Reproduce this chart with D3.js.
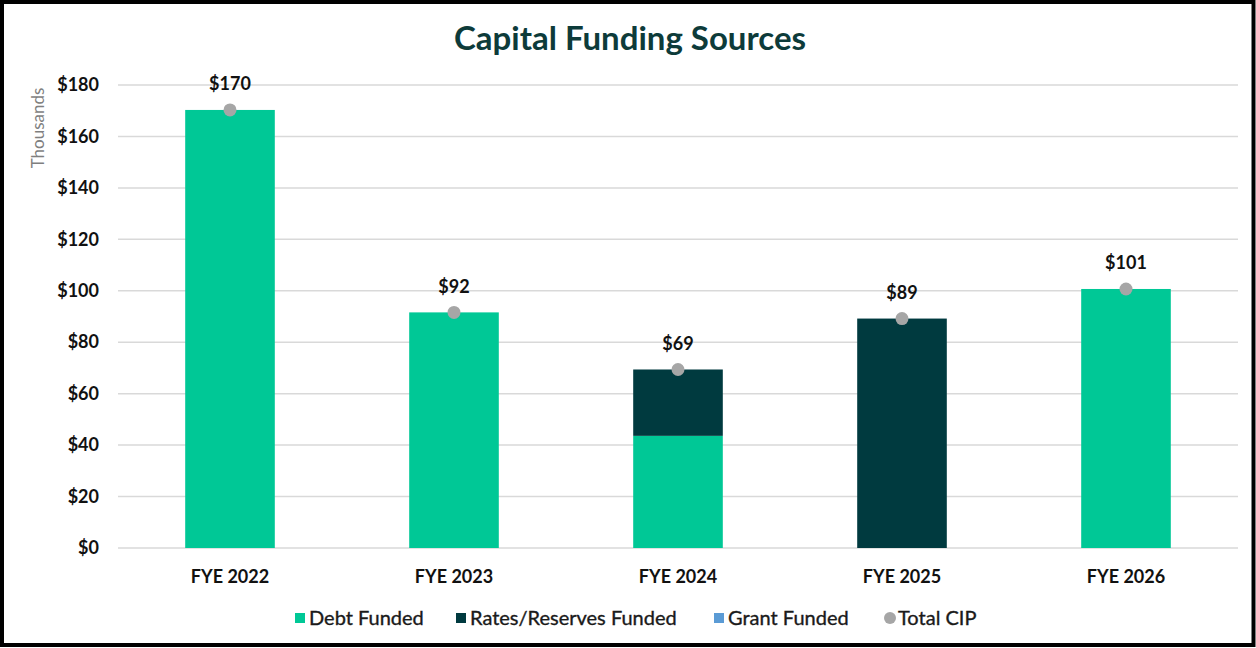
<!DOCTYPE html>
<html>
<head>
<meta charset="utf-8">
<script src="https://cdn.jsdelivr.net/npm/d3@7"></script>
<style>
  html, body { margin: 0; padding: 0; background: #fff; }
  svg { display: block; font-family: Lato, "Open Sans", sans-serif; }
</style>
</head>
<body>
<svg id="chart" width="1256" height="648"></svg>
<script>
// Fiscal years and funding amounts (thousands of dollars)
const categories = ["FYE 2022", "FYE 2023", "FYE 2024", "FYE 2025", "FYE 2026"];
const debtFunded = [170.3, 91.6, 43.6, 0, 100.7];
const ratesReservesFunded = [0, 0, 25.8, 89.2, 0];
const grantFunded = [0, 0, 0, 0, 0];
const yTicks = [0, 20, 40, 60, 80, 100, 120, 140, 160, 180];
const seriesNames = ["Debt Funded", "Rates/Reserves Funded", "Grant Funded", "Total CIP"];

const colors = {
  debt: "#00c896",
  rates: "#003a3f",
  grant: "#5b9bd5",
  total: "#a6a6a6"
};

const svg = d3.select("#chart");
const W = 1256, H = 648;

// Frame
svg.append("rect")
  .attr("x", 2).attr("y", 2)
  .attr("width", W - 4.5).attr("height", H - 5)
  .attr("fill", "#fff")
  .attr("stroke", "#000")
  .attr("stroke-width", 4);

const plot = { left: 118, right: 1238, top: 85, bottom: 548 };

const x = d3.scaleBand()
  .domain(categories)
  .range([plot.left, plot.right])
  .paddingInner(0.6)
  .paddingOuter(0.3);

const y = d3.scaleLinear()
  .domain([0, 180])
  .range([plot.bottom, plot.top]);

// Title
svg.append("text")
  .attr("x", 630).attr("y", 50)
  .attr("text-anchor", "middle")
  .attr("font-size", 33)
  .attr("font-weight", 700)
  .attr("fill", "#0d3b3a")
  .text("Capital Funding Sources");

// Gridlines
svg.append("g")
  .selectAll("line")
  .data(yTicks)
  .join("line")
  .attr("x1", plot.left).attr("x2", plot.right)
  .attr("y1", d => y(d)).attr("y2", d => y(d))
  .attr("stroke", "#d9d9d9")
  .attr("stroke-width", 1.5);

// Y axis labels
const yAxis = svg.append("g")
  .attr("transform", `translate(${plot.left - 19},0)`)
  .call(d3.axisLeft(y).tickValues(yTicks).tickSize(0).tickPadding(0).tickFormat(d => "$" + d));
yAxis.select(".domain").remove();
yAxis.selectAll("text")
  .attr("font-family", "Lato, sans-serif")
  .attr("font-size", 18)
  .attr("font-weight", 700)
  .attr("fill", "#111");

svg.append("text")
  .attr("transform", "translate(44,128) rotate(-90)")
  .attr("text-anchor", "middle")
  .attr("font-size", 17)
  .attr("fill", "#7f7f7f")
  .text("Thousands");

// X axis labels
const xAxis = svg.append("g")
  .attr("transform", `translate(0,${plot.bottom})`)
  .call(d3.axisBottom(x).tickSize(0).tickPadding(0));
xAxis.select(".domain").remove();
xAxis.selectAll("text")
  .attr("font-family", "Lato, sans-serif")
  .attr("font-size", 18)
  .attr("font-weight", 700)
  .attr("fill", "#111")
  .attr("dy", null)
  .attr("y", 35);

// Stacked bars
const rows = categories.map((c, i) => ({
  category: c,
  debt: debtFunded[i],
  rates: ratesReservesFunded[i],
  grant: grantFunded[i]
}));
const keys = ["debt", "rates", "grant"];
const stack = d3.stack().keys(keys)(rows);

svg.append("g")
  .selectAll("g")
  .data(stack)
  .join("g")
  .attr("fill", d => colors[d.key])
  .selectAll("rect")
  .data(d => d.filter(s => s[1] - s[0] > 0))
  .join("rect")
  .attr("x", d => x(d.data.category))
  .attr("width", x.bandwidth())
  .attr("y", d => y(d[1]))
  .attr("height", d => y(d[0]) - y(d[1]));

// Total CIP markers and labels
const totals = rows.map(r => ({ category: r.category, total: r.debt + r.rates + r.grant }));
const totalG = svg.append("g");
totalG.selectAll("circle")
  .data(totals)
  .join("circle")
  .attr("cx", d => x(d.category) + x.bandwidth() / 2)
  .attr("cy", d => y(d.total))
  .attr("r", 6.5)
  .attr("fill", colors.total);
totalG.selectAll("text")
  .data(totals)
  .join("text")
  .attr("x", d => x(d.category) + x.bandwidth() / 2)
  .attr("y", d => y(d.total) - 19.5)
  .attr("text-anchor", "middle")
  .attr("font-size", 18)
  .attr("font-weight", 700)
  .attr("fill", "#111")
  .text(d => "$" + Math.round(d.total));

// Legend
const legendItems = [
  { name: seriesNames[0], color: colors.debt, shape: "square", x: 295 },
  { name: seriesNames[1], color: colors.rates, shape: "square", x: 456 },
  { name: seriesNames[2], color: colors.grant, shape: "square", x: 714 },
  { name: seriesNames[3], color: colors.total, shape: "circle", x: 884 }
];
const legendY = 618;
const lg = svg.append("g")
  .selectAll("g")
  .data(legendItems)
  .join("g")
  .attr("transform", d => `translate(${d.x},${legendY})`);
lg.filter(d => d.shape === "square")
  .append("rect")
  .attr("x", 0).attr("y", -5)
  .attr("width", 10).attr("height", 10)
  .attr("fill", d => d.color);
lg.filter(d => d.shape === "circle")
  .append("circle")
  .attr("cx", 6).attr("cy", 0).attr("r", 6)
  .attr("fill", d => d.color);
lg.append("text")
  .attr("x", 14)
  .attr("dy", "0.35em")
  .attr("font-size", 20)
  .attr("fill", "#1a1a1a")
  .attr("stroke", "#1a1a1a")
  .attr("stroke-width", 0.35)
  .text(d => d.name);
</script>
</body>
</html>
